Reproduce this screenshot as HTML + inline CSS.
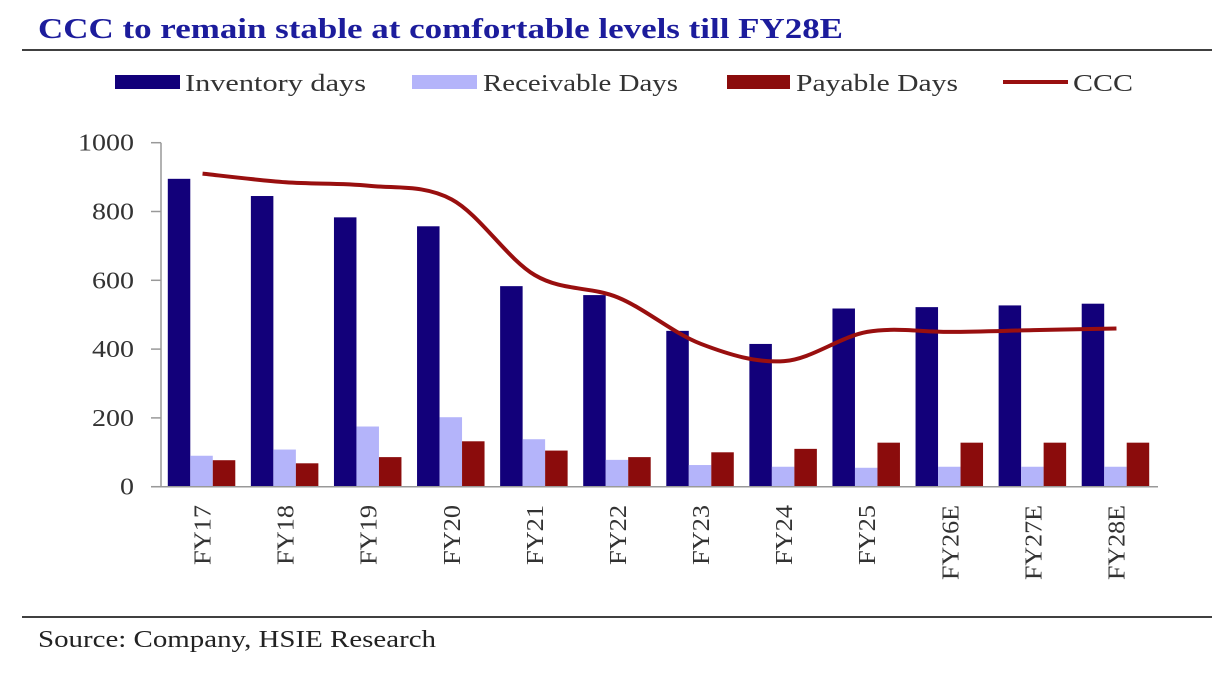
<!DOCTYPE html>
<html><head><meta charset="utf-8"><style>
body{margin:0;background:#fff;width:1228px;height:668px;overflow:hidden;font-family:"Liberation Serif",serif}
</style></head><body>
<svg width="1228" height="668" xmlns="http://www.w3.org/2000/svg">
<text x="38" y="38" font-size="28" font-weight="bold" fill="#1c1c9c" textLength="805" lengthAdjust="spacingAndGlyphs">CCC to remain stable at comfortable levels till FY28E</text>
<line x1="22" y1="50" x2="1212" y2="50" stroke="#000" stroke-width="1.5"/>
<g id="legend" font-size="24" fill="#333">
<rect x="115" y="75" width="65" height="14" fill="#12007a"/>
<text x="185" y="91" textLength="181" lengthAdjust="spacingAndGlyphs">Inventory days</text>
<rect x="412" y="75" width="65" height="14" fill="#b4b4fa"/>
<text x="483" y="91" textLength="195" lengthAdjust="spacingAndGlyphs">Receivable Days</text>
<rect x="727" y="75" width="63" height="14" fill="#8b0c0c"/>
<text x="796" y="91" textLength="162" lengthAdjust="spacingAndGlyphs">Payable Days</text>
<line x1="1003" y1="82" x2="1068" y2="82" stroke="#990f0f" stroke-width="4"/>
<text x="1073" y="91" textLength="60" lengthAdjust="spacingAndGlyphs">CCC</text>
</g>
<g id="plot"></g>
<line x1="22" y1="617" x2="1212" y2="617" stroke="#000" stroke-width="1.5"/>
<text x="38" y="647" font-size="24" fill="#222" textLength="398" lengthAdjust="spacingAndGlyphs">Source: Company, HSIE Research</text>
</svg>
<script>
const categories=["FY17","FY18","FY19","FY20","FY21","FY22","FY23","FY24","FY25","FY26E","FY27E","FY28E"];
const inventoryDays=[895,845,783,757,583,557,453,415,518,522,527,532];
const receivableDays=[90,108,175,202,138,78,63,58,55,58,58,58];
const payableDays=[77,68,86,132,105,86,100,110,128,128,128,128];
const cccDays=[910,885,875,835,615,550,415,365,450,450,455,460];
const yTicks=[0,200,400,600,800,1000];
const NS="http://www.w3.org/2000/svg";
const g=document.getElementById('plot');
const x0=161,x1=1158,y0=486.7,yTop=142.7,cw=(x1-x0)/categories.length;
const y=v=>y0-(v/1000)*(y0-yTop);
const xc=i=>x0+cw*(i+0.5);
function mk(t,a){const e=document.createElementNS(NS,t);for(const k in a)e.setAttribute(k,a[k]);g.appendChild(e);return e;}
let e=mk('line',{x1:x0,y1:yTop,x2:x0,y2:y0,stroke:'#999','stroke-width':1.5});


yTicks.forEach(v=>{
 let t=mk('line',{x1:151,y1:y(v),x2:x0,y2:y(v),stroke:'#999','stroke-width':1.5});
 
 
 const s=String(v);
 let l=mk('text',{x:134,y:y(v)+8,'text-anchor':'end','font-size':24,fill:'#333',textLength:s.length*14,lengthAdjust:'spacingAndGlyphs'});
 l.textContent=s;
 
 
});
const bw=22.5;
categories.forEach((c,i)=>{
 const cx=xc(i)-1;
 [[inventoryDays,'#12007a','bar-inventory'],[receivableDays,'#b4b4fa','bar-receivable'],[payableDays,'#8b0c0c','bar-payable']].forEach((s,j)=>{
  const v=s[0][i];
  let r=mk('rect',{x:cx-bw*1.5+j*bw,y:y(v),width:bw,height:y0-y(v),fill:s[1]});
  
  
 });
 let l=mk('text',{transform:`translate(${xc(i)+8},505) rotate(-90)`,'text-anchor':'end','font-size':24,fill:'#333',textLength:c.length===5?75:60,lengthAdjust:'spacingAndGlyphs'});
 l.textContent=c;
 
 
});
e=mk('line',{x1:151,y1:y0,x2:x1,y2:y0,stroke:'#999','stroke-width':1.5});


const pts=cccDays.map((v,i)=>[xc(i),y(v)]);
let d=`M${pts[0][0]},${pts[0][1]}`;
for(let i=0;i<pts.length-1;i++){
 const p0=pts[i-1]||pts[i],p1=pts[i],p2=pts[i+1],p3=pts[i+2]||p2;
 d+=` C${p1[0]+(p2[0]-p0[0])/6},${p1[1]+(p2[1]-p0[1])/6} ${p2[0]-(p3[0]-p1[0])/6},${p2[1]-(p3[1]-p1[1])/6} ${p2[0]},${p2[1]}`;
}
e=mk('path',{d:d,fill:'none',stroke:'#990f0f','stroke-width':4});


</script>
</body></html>
